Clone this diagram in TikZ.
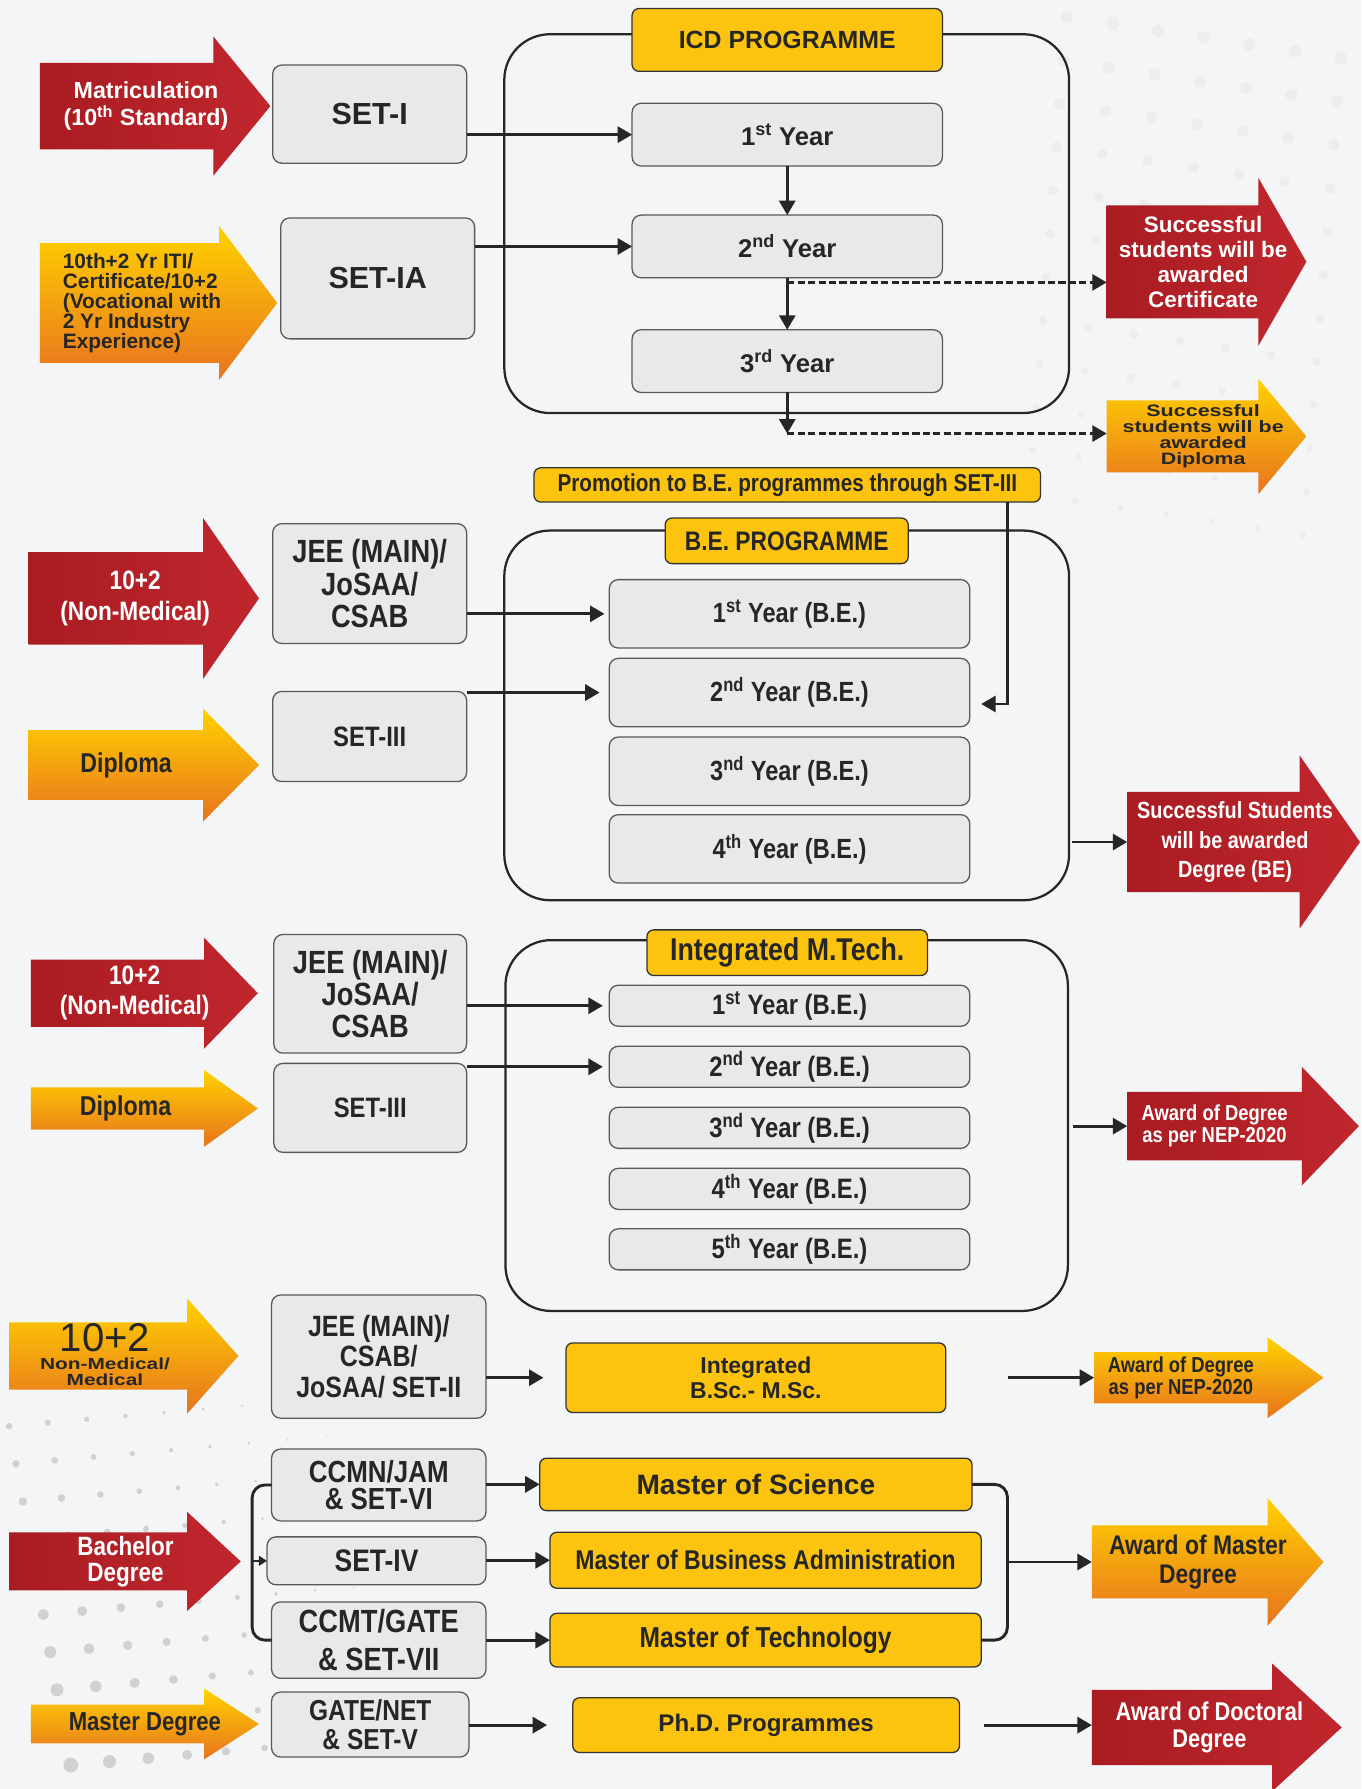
\documentclass[tikz,border=0pt]{standalone}
\usepackage{fontspec}
\setmainfont{Liberation Sans}
\newfontfamily\cnd{Liberation Sans}[FakeStretch=0.85]
\newfontfamily\wid{Liberation Sans}[FakeStretch=1.3]
\usetikzlibrary{arrows.meta,calc,fit}

\definecolor{bgcol}{HTML}{F3F5F7}
\definecolor{boxgray}{HTML}{E8E9EA}
\definecolor{boxyellow}{HTML}{FDC40F}
\definecolor{darkred}{HTML}{A81C22}
\definecolor{lightred}{HTML}{C0272D}
\definecolor{ayellow}{HTML}{FFD200}
\definecolor{aorange}{HTML}{E8731F}
\definecolor{ink}{HTML}{262626}

\pgfdeclarelayer{bg}
\pgfdeclarelayer{arr}
\pgfsetlayers{bg,arr,main}

\def\px{0.025cm}

% arrow shape round a body node: node, head overhang, head length, fill
\newcommand\bigarrow[4]{%
  \path[#4] (#1.north west) -- (#1.north east) -- ($(#1.north east)+(0,-#2)$)
    -- ($(#1.east)+(#3,0)$) -- ($(#1.south east)+(0,#2)$) -- (#1.south east)
    -- (#1.south west) -- cycle;}

\tikzset{
  rf/.style 2 args={font=\bfseries\fontsize{#1}{#2}\selectfont},
  cf/.style 2 args={font=\cnd\bfseries\fontsize{#1}{#2}\selectfont},
  wf/.style 2 args={font=\wid\bfseries\fontsize{#1}{#2}\selectfont},
  wh/.style 2 args={minimum width=#1*\px, minimum height=#2*\px},
}

\begin{document}
\begin{tikzpicture}[x=\px, y=-\px,
  graybox/.style={draw=black!65, fill=boxgray, line width=0.8pt, rounded corners=0.2cm,
    inner sep=0pt, outer sep=0pt, align=center, text=ink},
  yellowbox/.style={draw=black!80, fill=boxyellow, line width=0.8pt, rounded corners=0.15cm,
    inner sep=0pt, outer sep=0pt, align=center, text=ink},
  arrowbody/.style={inner sep=0pt, outer sep=0pt},
  arrowtext/.style={inner sep=0pt, align=center},
  progframe/.style={draw=black!85, line width=1.4pt, rounded corners=1cm, inner sep=0pt, outer sep=0pt},
  conn/.style={-{Triangle[length=9pt,width=10pt]}, line width=1.8pt, draw=black!85},
  smallconn/.style={-{Triangle[length=5pt,width=6pt]}, line width=1.5pt, draw=black!85},
  dashconn/.style={conn, dash pattern=on 4.5pt off 2pt},
  bracketline/.style={line width=1.8pt, draw=black!85, rounded corners=8pt},
  redfill/.style={left color=darkred, right color=lightred},
  orfill/.style={top color=ayellow, bottom color=aorange},
]

	\useasboundingbox (0,0) rectangle (1193,1568);
	\begin{pgfonlayer}{bg}
		\fill[bgcol] (0,0) rectangle (1193,1568);
		\foreach \i in {0,...,8}
			\foreach \j in {0,...,9}
				\fill[black!18] ({8+\i*34+\j*6},{1250+\j*33-\i*3}) circle[radius={max(0.6,(6.5-0.7*\i)*(0.45+0.06*\j))}];
		\foreach \i in {0,...,6}
			\foreach \j in {0,...,11}
				\fill[black!7] ({935+\i*40-\j*3},{15+\j*38+\i*6}) circle[radius={max(1,5.5-0.25*\j)}];
	\end{pgfonlayer}

	% ICD programme
	\node[arrowbody, wh={152}{76}] (matric) at (111,93) {};
	\node[arrowtext, rf={14.5}{17}, text=white] (matrictxt) at ($(matric)+(17,0)$) {Matriculation\\(10\textsuperscript{th} Standard)};
	\node[graybox, wh={170}{86}, rf={19}{21}] (set1) at (324,100) {SET-I};
	\node[arrowbody, wh={157}{105}] (iti) at (113.5,265.5) {};
	\node[arrowtext, rf={13}{12.4}, text=ink, align=left] (ititxt) at ($(iti)+(11,0)$) {10th+2 Yr ITI/\\Certificate/10+2\\(Vocational with\\2 Yr Industry\\Experience)};
	\node[graybox, wh={170}{106}, rf={19}{21}] (setia) at (331,244) {SET-IA};

	\node[progframe, fit={(442,30) (937,362)}] (icdframe) {};
	\node[yellowbox, wh={272}{55}, rf={15.5}{17}] (icdlabel) at (690,35) {ICD PROGRAMME};
	\foreach \n/\s/\y in {1/st/118, 2/nd/216, 3/rd/316.5}
		\node[graybox, wh={272}{55}, rf={16}{18}] (icd\n) at (690,\y) {\n\textsuperscript{\s} Year};

	\node[arrowbody, wh={133}{99}] (cert) at (1036.5,229.5) {};
	\node[arrowtext, rf={14}{15.6}, text=white] (certtxt) at ($(cert)+(18,0)$) {Successful\\students will be\\awarded\\Certificate};
	\node[arrowbody, wh={133}{63}] (dipl) at (1036.5,382.5) {};
	\node[arrowtext, wf={10.3}{10}, text=ink] (dipltxt) at ($(dipl)+(18,0)$) {Successful\\students will be\\awarded\\Diploma};

	\draw[conn] (set1.east |- icd1.west) -- (icd1.west);
	\draw[conn] (setia.east |- icd2.west) -- (icd2.west);
	\draw[conn] (icd1) -- (icd2);
	\draw[conn] (icd2) -- (icd3);
	\coordinate (certfork) at ($(icd2.south)+(0,4)$);
	\draw[dashconn] (certfork) -- (certfork -| cert.west);
	\coordinate (diplfork) at ($(icd3.south)+(0,36)$);
	\draw[conn] (icd3) -- (diplfork);
	\draw[dashconn] (diplfork) -- (diplfork -| dipl.west);

	\node[yellowbox, wh={444}{30}, cf={15.2}{17}] (promo) at (690,425) {Promotion to B.E. programmes through SET-III};
	\coordinate (promodrop) at ($(promo.south east)+(-29,0)$);

	% B.E. programme
	\node[arrowbody, wh={153}{81}] (nm1) at (101.5,524.5) {};
	\node[arrowtext, cf={16.6}{19}, text=white] (nm1txt) at ($(nm1)+(17,0)$) {10+2\\(Non-Medical)};
	\node[graybox, wh={170}{105}, cf={20}{20}] (jee1) at (324,511.5) {JEE (MAIN)/\\JoSAA/\\CSAB};
	\node[arrowbody, wh={153}{61}] (dip1) at (101.5,670.5) {};
	\node[arrowtext, cf={17}{19}, text=ink] (dip1txt) at ($(dip1)+(9,0)$) {Diploma};
	\node[graybox, wh={170}{79}, cf={17.5}{19}] (set3a) at (324,645.5) {SET-III};

	\node[progframe, fit={(442,465) (937,789)}] (beframe) {};
	\node[yellowbox, wh={213}{40}, cf={16.7}{18}] (belabel) at (689.5,474) {B.E. PROGRAMME};
	\foreach \n/\s/\y in {1/st/538, 2/nd/607, 3/nd/676, 4/th/744}
		\node[graybox, wh={316}{60}, cf={17.3}{19}] (be\n) at (692,\y) {\n\textsuperscript{\s} Year (B.E.)};
	\node[arrowbody, wh={151}{88}] (degbe) at (1063.5,738) {};
	\node[arrowtext, cf={14.6}{18.5}, text=white] (degbetxt) at ($(degbe)+(19,0)$) {Successful Students\\will be awarded\\Degree (BE)};

	\draw[conn, shorten >=3pt] (jee1.east |- be1.west) -- (be1.west);
	\draw[conn, shorten >=6pt] (set3a.east |- be2.west) -- (be2.west);
	\draw[conn] (promodrop) |- ($(be2.east)+(10,10)$);
	\draw[conn, shorten <=2pt] (beframe.east |- degbe.west) -- (degbe.west);

	% Integrated M.Tech.
	\node[arrowbody, wh={152}{59}] (nm2) at (103,870.5) {};
	\node[arrowtext, cf={16.6}{18.5}, text=white] (nm2txt) at ($(nm2)+(15,0)$) {10+2\\(Non-Medical)};
	\node[graybox, wh={169}{104}, cf={20}{20}] (jee2) at (324.5,871) {JEE (MAIN)/\\JoSAA/\\CSAB};
	\node[arrowbody, wh={152}{37}] (dip2) at (103,971.5) {};
	\node[arrowtext, cf={17}{19}, text=ink] (dip2txt) at ($(dip2)+(7,0)$) {Diploma};
	\node[graybox, wh={169}{78}, cf={17.5}{19}] (set3b) at (324.5,971) {SET-III};

	\node[progframe, fit={(443,824) (936,1149)}] (mtframe) {};
	\node[yellowbox, wh={246}{40}, cf={19.6}{21}] (mtlabel) at (690,835) {Integrated M.Tech.};
	\foreach \n/\s/\y in {1/st/881.5, 2/nd/935, 3/nd/988.5, 4/th/1042, 5/th/1095}
		\node[graybox, wh={316}{36}, cf={17.5}{19}] (mt\n) at (692,\y) {\n\textsuperscript{\s} Year (B.E.)};
	\node[arrowbody, wh={153}{60}] (nep1) at (1064.5,987) {};
	\node[arrowtext, cf={13.5}{14}, text=white] (nep1txt) at (nep1) {Award of Degree\\as per NEP-2020};

	\draw[conn, shorten >=4pt] (jee2.east |- mt1.west) -- (mt1.west);
	\draw[conn, shorten >=4pt] (set3b.east |- mt2.west) -- (mt2.west);
	\draw[conn, shorten <=3pt] (mtframe.east |- nep1.west) -- (nep1.west);

	% B.Sc. - M.Sc.
	\node[arrowbody, wh={156}{59}] (nm3) at (86,1188.5) {};
	\node[arrowtext, wf={10}{10}, text=ink] (nm3txt) at ($(nm3)+(6,-1)$) {{\normalfont\fontsize{25}{25}\selectfont 10+2}\\[1pt]Non-Medical/\\Medical};
	\node[graybox, wh={188}{108}, cf={18.3}{19.2}] (jee3) at (332,1189) {JEE (MAIN)/\\CSAB/\\JoSAA/ SET-II};
	\node[yellowbox, wh={333}{61}, rf={14.3}{15.6}] (bsc) at (662.5,1207.5) {Integrated\\B.Sc.- M.Sc.};
	\node[arrowbody, wh={152}{45}] (nep2) at (1035,1207.5) {};
	\node[arrowtext, cf={13.5}{14}, text=ink] (nep2txt) at (nep2) {Award of Degree\\as per NEP-2020};

	\draw[conn, shorten >=14pt] (jee3.east |- bsc.west) -- (bsc.west);
	\draw[conn, shorten <=39pt] (bsc.east) -- (bsc.east -| nep2.west);

	% Masters
	\node[arrowbody, wh={156}{51}] (bach) at (86,1368.5) {};
	\node[arrowtext, cf={16.5}{16.4}, text=white] (bachtxt) at ($(bach)+(24,0)$) {Bachelor\\Degree};
	\node[graybox, wh={188}{63}, cf={19}{17}] (ccmn) at (332,1301.5) {CCMN/JAM\\\& SET-VI};
	\node[graybox, wh={192}{42}, cf={19.4}{20}] (set4) at (330,1368) {SET-IV};
	\node[graybox, wh={188}{67}, cf={20}{23.5}] (ccmt) at (332,1437.5) {CCMT/GATE\\\& SET-VII};
	\node[yellowbox, wh={379}{46}, rf={17.5}{19}] (msc) at (662.5,1301) {Master of Science};
	\node[yellowbox, wh={378}{49}, cf={16.9}{19}] (mba) at (671,1367.5) {Master of Business Administration};
	\node[yellowbox, wh={378}{47}, cf={18}{19}] (mtech) at (671,1437.5) {Master of Technology};
	\node[arrowbody, wh={154}{64}] (mast) at (1034,1369) {};
	\node[arrowtext, cf={16.8}{18.5}, text=ink] (masttxt) at ($(mast)+(16,0)$) {Award of Master\\Degree};

	\coordinate (lbr) at ($(ccmn.west)+(-17,0)$);
	\coordinate (rbr) at ($(msc.east)+(31,0)$);
	\draw[bracketline] (ccmn.west) -- (lbr) |- (ccmt.west);
	\draw[smallconn] (lbr |- set4.west) -- (set4.west);
	\draw[conn] (ccmn.east |- msc.west) -- (msc.west);
	\draw[conn] (set4.east |- mba.west) -- (mba.west);
	\draw[conn] (ccmt.east |- mtech.west) -- (mtech.west);
	\draw[bracketline] (msc.east) -- (rbr) |- (mtech.east);
	\draw[conn] (rbr |- mast.west) -- (mast.west);

	% Ph.D.
	\node[arrowbody, wh={152}{34}] (mdeg) at (103,1511) {};
	\node[arrowtext, cf={16.2}{18}, text=ink] (mdegtxt) at ($(mdeg)+(24,0)$) {Master Degree};
	\node[graybox, wh={173}{57}, cf={18}{17.8}] (gate) at (324.5,1511.5) {GATE/NET\\\& SET-V};
	\node[yellowbox, wh={339}{48}, rf={15}{17}] (phd) at (671.5,1512) {Ph.D. Programmes};
	\node[arrowbody, wh={158}{66}] (doc) at (1036,1514) {};
	\node[arrowtext, cf={16}{16.4}, text=white] (doctxt) at ($(doc)+(24,0)$) {Award of Doctoral\\Degree};

	\draw[conn, shorten >=16pt] (gate.east |- phd.west) -- (phd.west);
	\draw[conn, shorten <=15pt] (phd.east) -- (phd.east -| doc.west);

	% big arrow shapes
	\begin{pgfonlayer}{arr}
		\bigarrow{matric}{23}{50}{redfill}
		\bigarrow{iti}{15}{51}{orfill}
		\bigarrow{cert}{24}{42}{redfill}
		\bigarrow{dipl}{19}{42}{orfill}
		\bigarrow{nm1}{30}{49}{redfill}
		\bigarrow{dip1}{19}{49}{orfill}
		\bigarrow{degbe}{32}{53}{redfill}
		\bigarrow{nm2}{19}{47}{redfill}
		\bigarrow{dip2}{15}{47}{orfill}
		\bigarrow{nep1}{22}{50}{redfill}
		\bigarrow{nm3}{21}{45}{orfill}
		\bigarrow{nep2}{13}{49}{orfill}
		\bigarrow{bach}{18}{47}{redfill}
		\bigarrow{mast}{24}{49}{orfill}
		\bigarrow{mdeg}{14}{48}{orfill}
		\bigarrow{doc}{23}{61}{redfill}
	\end{pgfonlayer}

\end{tikzpicture}
\end{document}
